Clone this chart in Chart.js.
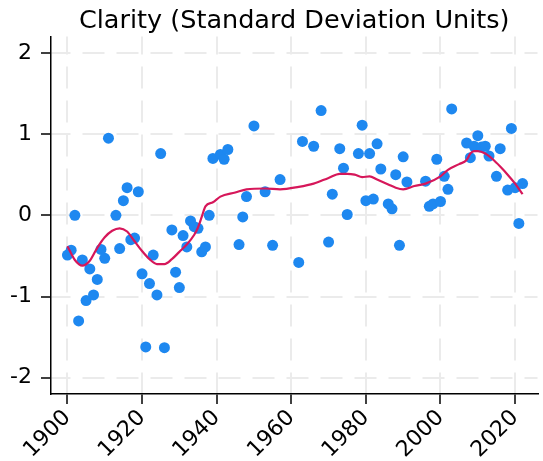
<!DOCTYPE html>
<html>
<head>
<meta charset="utf-8">
<script src="https://cdn.jsdelivr.net/npm/chart.js"></script>
<style>
  body { margin: 0; background: #fff; }
</style>
</head>
<body>
<canvas id="myChart" width="543" height="461"></canvas>
<script>
// scatter: one point per year
const years = [1900, 1901, 1902, 1903, 1904, 1905, 1906, 1907, 1908, 1909, 1910, 1911,
    1913, 1914, 1915, 1916, 1917, 1918, 1919, 1920, 1921, 1922, 1923, 1924, 1925, 1926,
    1928, 1929, 1930, 1931, 1932, 1933, 1934, 1935, 1936, 1937, 1938, 1939, 1941, 1942, 1943,
    1946, 1947, 1948, 1950, 1953, 1955, 1957, 1962, 1963, 1966, 1968, 1970, 1971, 1973, 1974,
    1975, 1978, 1979, 1980, 1981, 1982, 1983, 1984, 1986, 1987, 1988, 1989, 1990, 1991,
    1996, 1997, 1998, 1999, 2000, 2001, 2002, 2003, 2007, 2008, 2009, 2010, 2011, 2012, 2013,
    2015, 2016, 2018, 2019, 2020, 2021, 2022];
const clarity = [-0.49, -0.43, 0.00, -1.30, -0.55, -1.05, -0.66, -0.98, -0.79, -0.42, -0.53, 0.95,
    0.00, -0.41, 0.18, 0.34, -0.30, -0.28, 0.29, -0.72, -1.62, -0.84, -0.49, -0.98, 0.76, -1.63,
    -0.18, -0.70, -0.89, -0.25, -0.39, -0.07, -0.14, -0.16, -0.45, -0.39, 0.00, 0.70, 0.75, 0.69, 0.81,
    -0.36, -0.02, 0.23, 1.10, 0.29, -0.37, 0.44, -0.58, 0.91, 0.85, 1.29, -0.33, 0.26, 0.82, 0.58,
    0.01, 0.76, 1.11, 0.18, 0.76, 0.20, 0.88, 0.57, 0.14, 0.08, 0.50, -0.37, 0.72, 0.41,
    0.42, 0.11, 0.14, 0.69, 0.17, 0.48, 0.32, 1.31, 0.89, 0.71, 0.85, 0.98, 0.84, 0.85, 0.73,
    0.48, 0.82, 0.31, 1.07, 0.34, -0.10, 0.39];

// smoothed trend
const smoothYears = [1900, 1902, 1904, 1906, 1908, 1910, 1912, 1914, 1916, 1918, 1920, 1922,
    1924, 1926, 1928, 1930, 1932, 1934, 1935, 1936, 1937, 1939, 1941, 1945, 1948, 1953, 1957,
    1962, 1966, 1970, 1973, 1975, 1977, 1979, 1981, 1983, 1986, 1988, 1990, 1993, 1996, 2000,
    2002, 2005, 2007, 2008, 2009, 2010, 2012, 2014, 2016, 2018, 2020, 2022];
const smoothValues = [-0.38, -0.55, -0.62, -0.56, -0.40, -0.27, -0.19, -0.16, -0.20, -0.32, -0.44, -0.54,
    -0.60, -0.60, -0.54, -0.45, -0.36, -0.24, -0.15, -0.02, 0.11, 0.16, 0.23, 0.28, 0.32, 0.33, 0.32,
    0.35, 0.39, 0.46, 0.51, 0.51, 0.50, 0.47, 0.48, 0.44, 0.38, 0.34, 0.32, 0.36, 0.39, 0.48,
    0.56, 0.63, 0.68, 0.76, 0.79, 0.79, 0.76, 0.69, 0.60, 0.50, 0.39, 0.26];

const xTicks = [1900, 1920, 1940, 1960, 1980, 2000, 2020];
const yTicks = [-2, -1, 0, 1, 2];

Chart.defaults.font.family = "'DejaVu Sans'";
Chart.defaults.color = '#000';

const gridColor = '#ebebeb';

const ctx = document.getElementById('myChart');

const myChart = new Chart(ctx, {
    type: 'scatter',
    data: {
        datasets: [{
            type: 'line',
            data: smoothYears.map((yr, i) => ({ x: yr, y: smoothValues[i] })),
            borderColor: '#d6175a',
            borderWidth: 2.2,
            pointRadius: 0,
            fill: false,
            cubicInterpolationMode: 'monotone'
        }, {
            data: years.map((yr, i) => ({ x: yr, y: clarity[i] })),
            backgroundColor: '#1e88f0',
            borderWidth: 0,
            pointRadius: 5.5
        }]
    },
    options: {
        responsive: false,
        animation: false,
        layout: { padding: 0 },
        plugins: {
            legend: { display: false },
            tooltip: { enabled: false },
            title: {
                display: true,
                fullSize: false, // centre over the plot area
                text: 'Clarity (Standard Deviation Units)',
                color: '#000',
                font: { size: 25.5, weight: 'normal', lineHeight: 1.2 },
                padding: { top: 6, bottom: 0 }
            }
        },
        scales: {
            x: {
                type: 'linear',
                min: 1895.6,
                max: 2026,
                afterBuildTicks: scale => { scale.ticks = xTicks.map(v => ({ value: v })); },
                afterFit: scale => { scale.height = 67; },
                ticks: {
                    minRotation: 45,
                    maxRotation: 45,
                    padding: 1,
                    font: { size: 22 },
                    callback: v => String(v)
                },
                grid: {
                    color: gridColor,
                    lineWidth: 2,
                    tickColor: '#000',
                    tickWidth: 1.5,
                    tickLength: 10
                },
                border: { color: '#000', width: 1.5, dash: [22, 12], dashOffset: 4 }
            },
            y: {
                min: -2.2,
                max: 2.2,
                afterBuildTicks: scale => { scale.ticks = yTicks.map(v => ({ value: v })); },
                afterFit: scale => { scale.width = 51; },
                ticks: {
                    padding: 9,
                    font: { size: 22 }
                },
                grid: {
                    color: gridColor,
                    lineWidth: 2,
                    tickColor: '#000',
                    tickWidth: 1.5,
                    tickLength: 10
                },
                border: { color: '#000', width: 1.5, dash: [22, 12], dashOffset: 3 }
            }
        }
    }
});
</script>
</body>
</html>
